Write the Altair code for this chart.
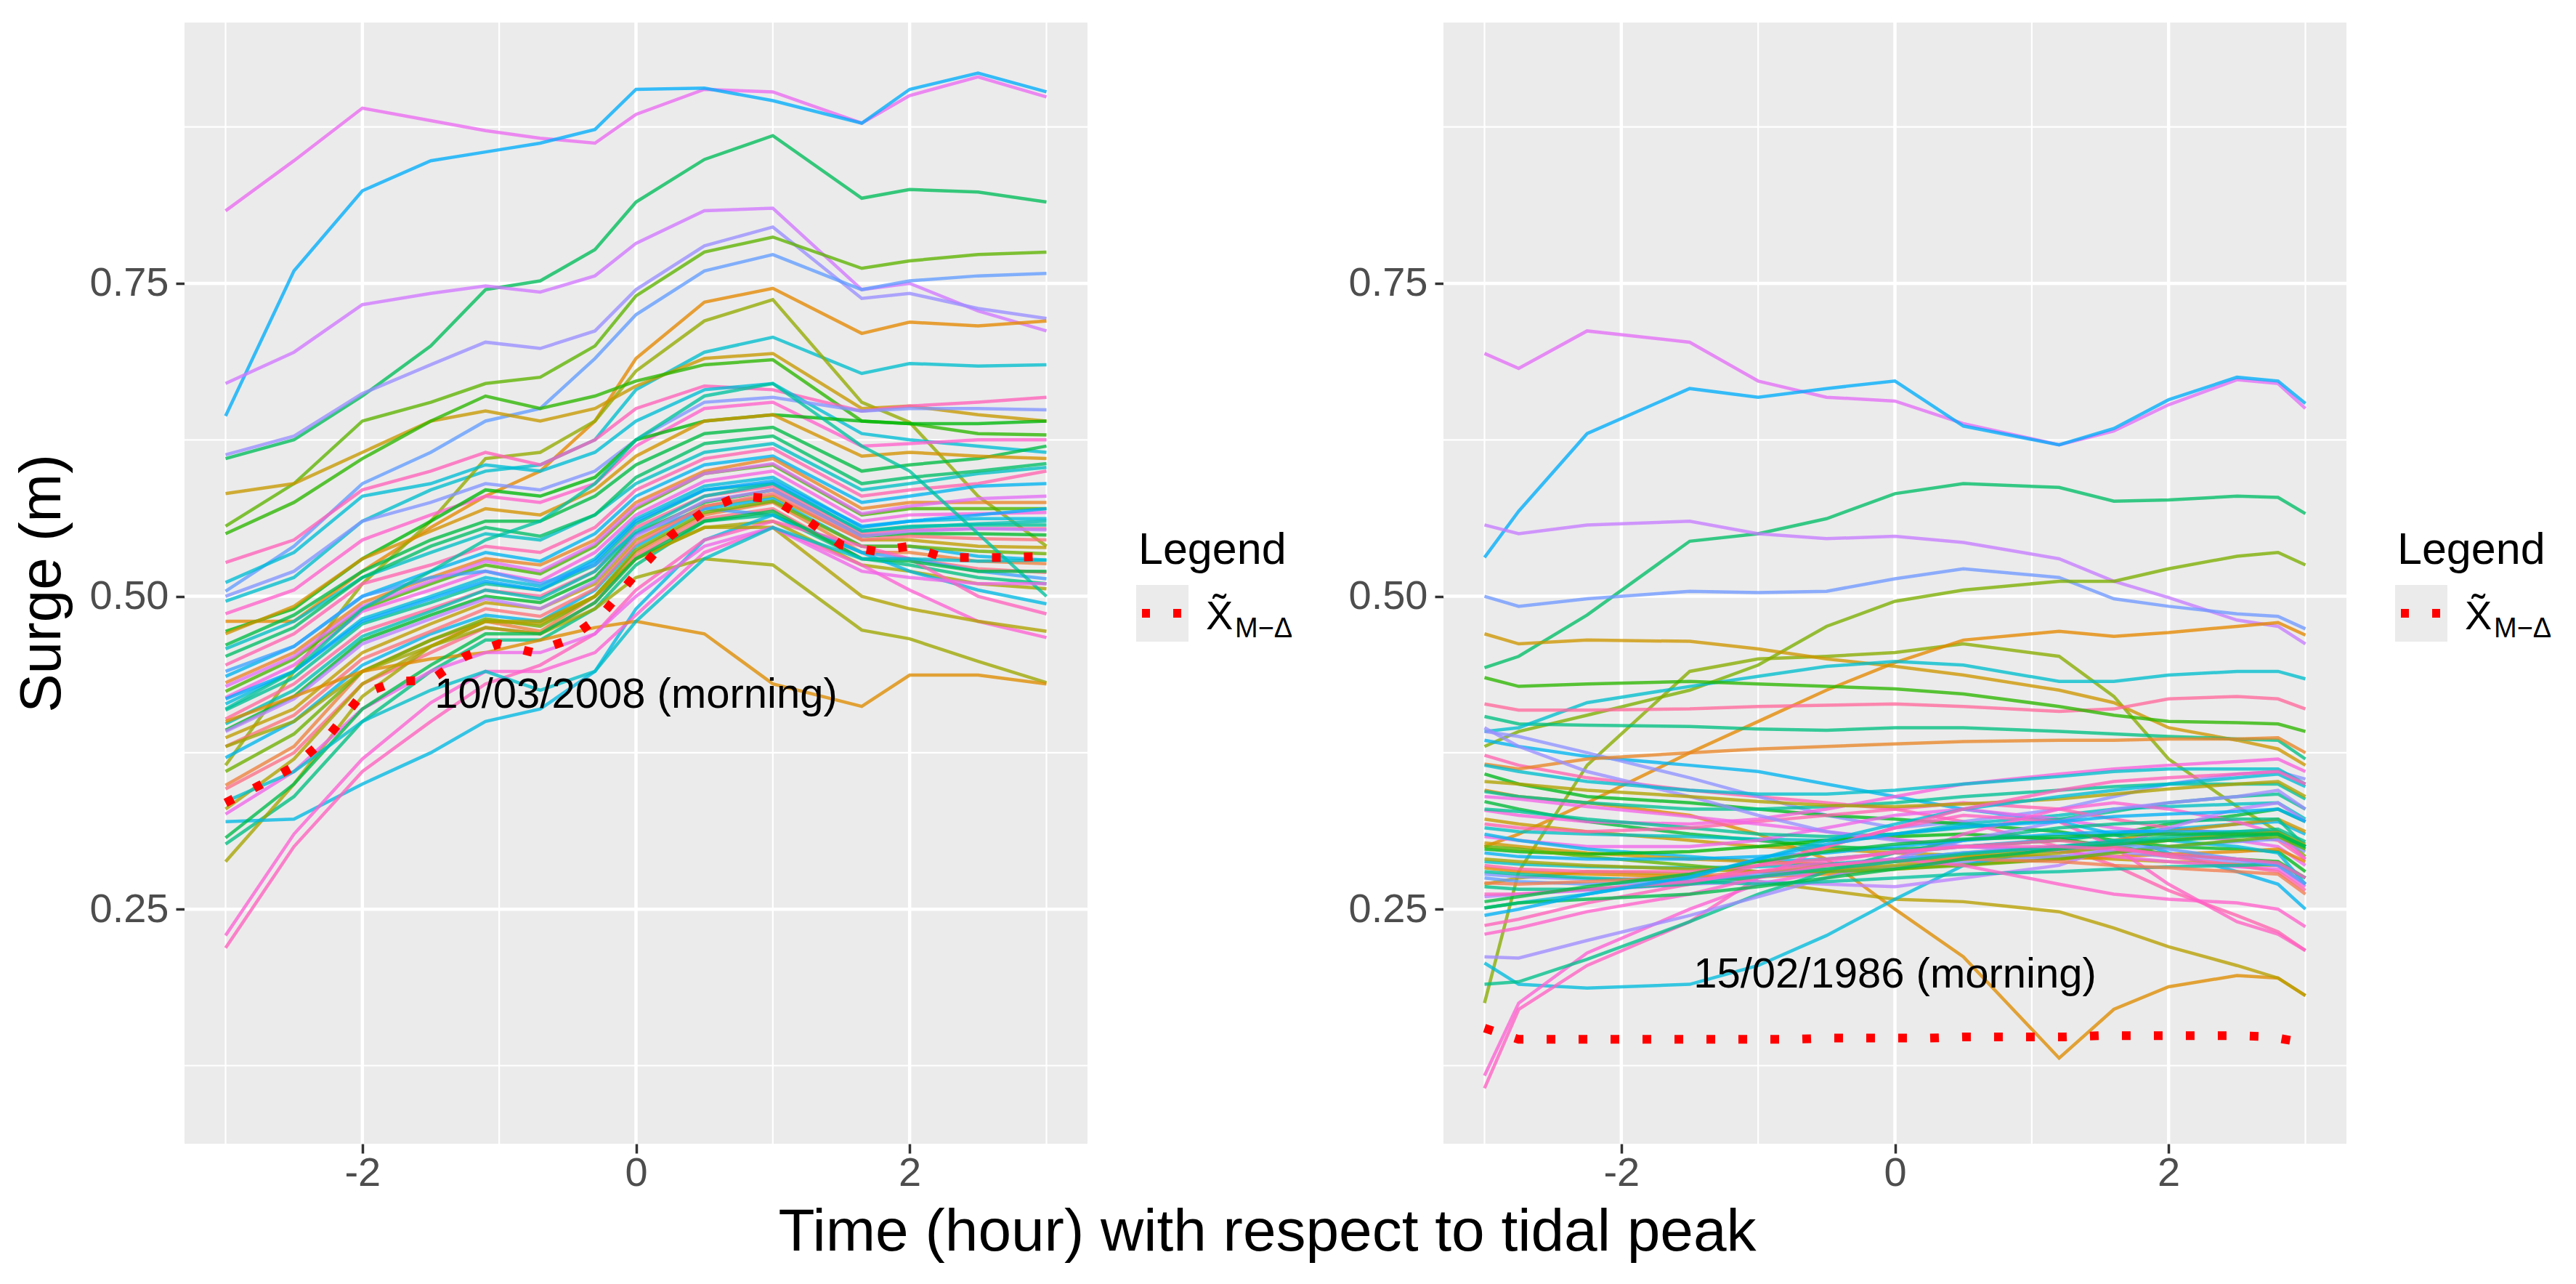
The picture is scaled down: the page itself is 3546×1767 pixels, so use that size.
import math
import altair as alt
import pandas as pd

FONT = "Liberation Sans"

# ---------------- data ----------------
T_LEFT = [-3, -2.5, -2, -1.5, -1.1, -0.7, -0.3, 0, 0.5, 1, 1.65, 2, 2.5, 3]
T_RIGHT = [-3, -2.75, -2.25, -1.5, -1, -0.5, 0, 0.5, 1.2, 1.6, 2, 2.5, 2.8, 3]
T_MEAN = [-3, -2.75, -2.5, -2.25, -2, -1.75, -1.5, -1.25, -1, -0.75, -0.5, -0.25, 0,
          0.25, 0.5, 0.75, 1, 1.25, 1.5, 1.75, 2, 2.25, 2.5, 2.75, 3]

LEFT_UPPER = [
    [.808, .848, .890, .880, .872, .866, .862, .885, .905, .903, .878, .900, .915, .899],
    [.644, .760, .824, .848, .855, .862, .873, .905, .906, .896, .878, .905, .918, .903],
    [.610, .625, .660, .700, .745, .752, .777, .815, .849, .868, .818, .825, .823, .815],
    [.670, .695, .733, .742, .748, .743, .756, .782, .808, .810, .745, .750, .728, .712],
    [.613, .628, .662, .685, .703, .698, .712, .745, .780, .795, .738, .742, .730, .722],
    [.556, .590, .640, .655, .670, .675, .700, .740, .775, .787, .762, .768, .773, .775],
    [.504, .540, .590, .615, .640, .650, .690, .725, .760, .773, .745, .752, .756, .758],
    [.480, .480, .520, .555, .580, .600, .640, .690, .735, .746, .710, .719, .716, .720],
    [.496, .515, .560, .585, .600, .605, .625, .665, .695, .707, .678, .686, .684, .685],
    [.365, .440, .510, .560, .610, .615, .640, .680, .720, .737, .655, .639, .580, .540],
    [.582, .590, .615, .640, .648, .640, .650, .668, .690, .694, .650, .652, .645, .640],
    [.550, .575, .610, .640, .660, .650, .660, .672, .685, .689, .640, .638, .630, .629],
]
LEFT_MIDDLE = [
    [.527, .545, .585, .600, .615, .605, .625, .650, .668, .665, .648, .652, .655, .659],
    [.511, .535, .580, .590, .605, .600, .615, .640, .665, .670, .630, .625, .620, .615],
    [.500, .520, .560, .575, .590, .585, .600, .625, .655, .659, .648, .650, .650, .649],
    [.486, .505, .545, .565, .580, .575, .590, .620, .650, .655, .620, .622, .625, .625],
    [.472, .490, .530, .560, .585, .580, .595, .625, .640, .645, .640, .638, .638, .640],
    [.461, .485, .520, .545, .560, .560, .580, .605, .630, .635, .600, .605, .610, .620],
    [.458, .480, .515, .535, .550, .545, .565, .590, .615, .622, .585, .590, .598, .603],
    [.445, .470, .510, .525, .540, .535, .555, .585, .610, .618, .580, .585, .590, .600],
    [.436, .460, .500, .520, .535, .528, .550, .580, .605, .612, .575, .580, .588, .590],
    [.431, .455, .495, .515, .530, .525, .545, .575, .600, .610, .570, .575, .575, .575],
    [.424, .450, .490, .510, .525, .518, .540, .570, .598, .605, .565, .570, .570, .570],
    [.419, .445, .488, .505, .520, .512, .535, .565, .592, .600, .560, .565, .566, .567],
    [.414, .440, .482, .500, .515, .508, .530, .562, .588, .595, .555, .560, .562, .562],
    [.409, .435, .478, .495, .510, .505, .525, .558, .585, .590, .552, .556, .557, .557],
    [.402, .430, .472, .490, .505, .500, .520, .555, .580, .588, .550, .553, .554, .554],
    [.393, .420, .465, .485, .500, .495, .515, .550, .575, .585, .548, .550, .550, .549],
    [.387, .410, .455, .478, .495, .490, .510, .545, .572, .580, .545, .545, .540, .539],
    [.371, .400, .445, .470, .485, .480, .505, .540, .570, .578, .540, .540, .532, .529],
    [.349, .380, .440, .465, .480, .472, .500, .535, .565, .575, .535, .535, .528, .526],
    [.346, .375, .430, .455, .475, .470, .495, .532, .562, .570, .530, .530, .522, .519],
    [.440, .460, .500, .515, .520, .510, .525, .550, .570, .565, .535, .530, .520, .514],
    [.452, .475, .515, .540, .555, .548, .565, .595, .622, .628, .590, .595, .600, .606],
    [.428, .452, .492, .512, .528, .520, .542, .572, .598, .606, .566, .572, .578, .580],
    [.398, .425, .468, .488, .505, .498, .520, .552, .580, .590, .552, .555, .558, .560],
    [.380, .405, .450, .472, .490, .484, .506, .542, .572, .582, .545, .548, .546, .545],
    [.360, .390, .440, .465, .482, .476, .500, .537, .567, .576, .540, .540, .536, .534],
    [.418, .440, .480, .498, .512, .505, .528, .560, .585, .592, .556, .560, .565, .570],
    [.470, .492, .530, .552, .570, .565, .585, .612, .640, .645, .612, .615, .612, .610],
    [.392, .418, .462, .482, .498, .490, .512, .548, .576, .585, .548, .552, .554, .553],
]
LEFT_LOWER = [
    [.302, .340, .400, .440, .465, .465, .490, .525, .560, .565, .530, .525, .515, .510],
    [.288, .350, .420, .460, .480, .480, .500, .530, .555, .560, .525, .520, .510, .506],
    [.320, .322, .350, .375, .400, .410, .440, .490, .545, .565, .535, .520, .505, .494],
    [.219, .300, .360, .400, .430, .445, .470, .505, .545, .560, .540, .530, .500, .486],
    [.229, .310, .370, .415, .440, .440, .455, .485, .535, .555, .525, .505, .480, .467],
    [.380, .400, .440, .460, .475, .470, .490, .515, .530, .525, .473, .466, .448, .431],
    [.400, .420, .440, .450, .455, .465, .475, .480, .470, .430, .412, .437, .437, .430],
    [.330, .370, .430, .460, .480, .478, .500, .530, .555, .555, .500, .490, .480, .472],
    [.410, .440, .490, .520, .545, .560, .590, .625, .660, .670, .620, .600, .550, .500],
    [.326, .360, .410, .440, .455, .455, .470, .500, .540, .555, .520, .515, .510, .510],
    [.307, .350, .410, .445, .470, .470, .495, .530, .560, .568, .530, .528, .520, .520],
    [.336, .360, .400, .425, .440, .425, .440, .480, .530, .555, .530, .530, .528, .529],
]
LEFT_MEAN = [.335, .349, .364, .388, .422, .432, .433, .452, .462, .455, .465, .485, .518,
             .548, .568, .580, .578, .561, .541, .536, .540, .531, .531, .531, .532]

RIGHT_UPPER = [
    [.694, .682, .712, .703, .672, .659, .656, .638, .621, .632, .653, .673, .670, .650],
    [.531, .568, .630, .666, .659, .666, .672, .636, .621, .634, .657, .675, .672, .654],
    [.443, .452, .485, .544, .550, .562, .582, .590, .587, .576, .577, .580, .579, .566],
    [.557, .550, .557, .560, .550, .546, .548, .543, .530, .512, .499, .481, .476, .462],
    [.500, .492, .498, .504, .503, .504, .514, .522, .515, .498, .492, .486, .484, .474],
    [.380, .392, .405, .425, .445, .476, .496, .505, .512, .512, .522, .532, .535, .525],
    [.175, .280, .365, .440, .450, .452, .455, .462, .452, .420, .370, .332, .312, .292],
    [.300, .310, .335, .375, .400, .425, .447, .465, .472, .468, .471, .476, .479, .469],
]
RIGHT_MIDDLE = [
    [.345, .340, .335, .325, .310, .290, .250, .212, .131, .170, .188, .197, .195, .181],
    [.270, .275, .280, .278, .272, .265, .258, .256, .248, .235, .220, .205, .195, .181],
    [.470, .462, .465, .464, .458, .450, .444, .437, .425, .415, .395, .385, .378, .365],
    [.404, .398, .397, .396, .394, .393, .395, .395, .392, .390, .388, .386, .385, .370],
    [.392, .395, .415, .428, .436, .444, .448, .445, .432, .432, .437, .440, .440, .434],
    [.414, .409, .409, .410, .412, .413, .414, .412, .408, .410, .418, .420, .418, .410],
    [.435, .428, .430, .432, .430, .428, .426, .422, .412, .405, .400, .399, .398, .392],
    [.373, .365, .355, .345, .340, .335, .330, .320, .300, .285, .265, .245, .232, .217],
    [.385, .380, .372, .365, .360, .350, .340, .330, .320, .310, .295, .280, .270, .250],
    [.392, .388, .375, .355, .340, .325, .315, .320, .330, .340, .350, .358, .360, .354],
    [.366, .362, .370, .375, .378, .380, .382, .384, .385, .385, .386, .386, .387, .375],
    [.358, .350, .340, .335, .330, .325, .322, .318, .312, .305, .300, .298, .296, .280],
    [.344, .340, .335, .330, .330, .332, .335, .340, .345, .348, .350, .350, .350, .338],
    [.336, .330, .320, .310, .305, .300, .298, .300, .305, .310, .318, .325, .330, .320],
    [.329, .325, .320, .318, .322, .330, .340, .350, .358, .362, .365, .368, .370, .360],
    [.322, .318, .312, .305, .300, .298, .295, .293, .292, .290, .288, .286, .285, .270],
    [.315, .312, .310, .308, .306, .305, .310, .318, .325, .330, .332, .334, .335, .322],
    [.308, .305, .300, .300, .305, .315, .325, .330, .322, .315, .310, .305, .300, .285],
    [.330, .328, .322, .315, .310, .308, .310, .315, .322, .328, .335, .340, .342, .330],
    [.318, .315, .312, .315, .320, .325, .330, .335, .330, .322, .315, .310, .305, .290],
    [.310, .305, .298, .292, .288, .290, .295, .300, .306, .310, .314, .318, .320, .310],
    [.303, .300, .295, .290, .288, .286, .288, .292, .298, .305, .312, .318, .322, .312],
    [.298, .296, .294, .296, .300, .305, .308, .310, .306, .300, .294, .290, .288, .275],
    [.288, .286, .284, .283, .284, .286, .290, .295, .300, .303, .306, .309, .310, .298],
    [.283, .280, .278, .276, .276, .278, .282, .286, .290, .292, .294, .296, .298, .288],
    [.278, .276, .274, .274, .276, .280, .284, .288, .292, .296, .300, .304, .306, .296],
    [.340, .338, .332, .324, .318, .312, .306, .300, .296, .292, .288, .284, .282, .268],
    [.395, .380, .360, .340, .325, .312, .305, .300, .298, .296, .292, .288, .285, .270],
    [.352, .350, .345, .340, .336, .333, .332, .334, .338, .342, .346, .350, .352, .340],
    [.365, .360, .352, .345, .342, .342, .345, .350, .356, .360, .362, .362, .362, .350],
]
RIGHT_LOWER = [
    [.207, .190, .187, .190, .205, .229, .258, .285, .300, .305, .305, .300, .295, .270],
    [.107, .170, .205, .240, .275, .300, .315, .325, .320, .300, .270, .240, .230, .217],
    [.117, .175, .215, .250, .270, .280, .290, .310, .330, .335, .330, .320, .310, .290],
    [.190, .192, .210, .240, .262, .280, .295, .305, .315, .318, .320, .322, .322, .300],
    [.212, .211, .225, .245, .260, .275, .290, .305, .320, .330, .335, .340, .345, .330],
    [.260, .262, .265, .270, .272, .270, .268, .275, .285, .300, .315, .330, .335, .320],
    [.300, .298, .292, .285, .280, .280, .282, .285, .290, .295, .300, .305, .308, .298],
    [.295, .292, .290, .290, .292, .295, .300, .305, .310, .312, .312, .312, .312, .300],
    [.290, .288, .285, .282, .280, .282, .285, .290, .295, .300, .305, .310, .312, .302],
    [.285, .282, .280, .280, .285, .290, .295, .300, .305, .300, .292, .285, .280, .265],
    [.280, .278, .275, .272, .270, .272, .275, .278, .280, .282, .284, .285, .286, .275],
    [.275, .272, .270, .272, .278, .285, .290, .295, .300, .302, .298, .290, .285, .270],
    [.271, .270, .272, .276, .280, .285, .288, .290, .288, .285, .283, .280, .278, .262],
    [.251, .255, .262, .275, .290, .305, .318, .330, .340, .345, .350, .355, .358, .348],
    [.237, .242, .255, .270, .285, .300, .315, .330, .345, .352, .355, .358, .360, .350],
    [.230, .235, .248, .262, .275, .285, .290, .285, .270, .262, .258, .255, .250, .236],
    [.251, .255, .258, .262, .268, .275, .282, .290, .298, .302, .305, .308, .310, .300],
    [.268, .266, .266, .270, .276, .282, .288, .294, .300, .304, .308, .312, .314, .304],
    [.262, .262, .266, .272, .280, .288, .296, .300, .300, .298, .294, .290, .287, .275],
    [.256, .260, .268, .278, .288, .296, .302, .306, .308, .309, .310, .310, .310, .300],
    [.245, .250, .262, .276, .290, .302, .310, .316, .320, .324, .326, .328, .330, .320],
]
RIGHT_MEAN = [.155, .146, .146, .146, .146, .146, .146, .146, .146, .146, .147, .147, .147,
              .147, .148, .148, .148, .148, .149, .149, .149, .149, .149, .148, .143]

LEFT_LABEL = "10/03/2008 (morning)"
RIGHT_LABEL = "15/02/1986 (morning)"
LEFT_LABEL_POS = (0, 0.421)
RIGHT_LABEL_POS = (0, 0.197)

Y_TICKS = [0.25, 0.5, 0.75]
Y_MINOR = [0.125, 0.375, 0.625, 0.875]
X_TICKS = [-2, 0, 2]
X_MINOR = [-3, -1, 1, 3]

# ---------------- styles ----------------
LEFT_HUES = [305, 235, 145, 290, 268, 115, 255, 40, 200, 95, 65, 125,
             340, 205, 262, 330, 128, 138, 195, 345, 225, 35, 120, 315, 210, 170, 355, 132,
             70, 220, 30, 5, 250,
             150, 300, 185, 10, 110, 240, 55, 280,
             160, 85, 215, 338, 325, 90, 45, 80, 175, 310, 140, 198]
RIGHT_HUES = [300, 235, 150, 285, 258, 105, 100, 40,
              45, 75, 60, 160, 200, 355, 125, 345, 225, 265, 35, 130, 170, 135, 320, 65, 195, 310,
              170, 345, 220, 60, 128, 195, 40, 262, 312, 268, 80, 200,
              210, 335, 325, 165, 270, 280, 115, 230, 85, 350, 175, 255, 25, 205, 340, 330, 140,
              165, 335, 138, 230]


def hcl_hex(h, c=100.0, l=65.0):
    hr = math.radians(h)
    u, v = c * math.cos(hr), c * math.sin(hr)
    xn, yn, zn = 95.047, 100.0, 108.883
    den = xn + 15 * yn + 3 * zn
    un, vn = 4 * xn / den, 9 * yn / den
    yy = yn * ((l + 16) / 116) ** 3
    up, vp = u / (13 * l) + un, v / (13 * l) + vn
    xx = yy * 9 * up / (4 * vp)
    zz = yy * (12 - 3 * up - 20 * vp) / (4 * vp)
    xx, yy, zz = xx / 100, yy / 100, zz / 100
    r = 3.2404542 * xx - 1.5371385 * yy - 0.4985314 * zz
    g = -0.9692660 * xx + 1.8760108 * yy + 0.0415560 * zz
    b = 0.0556434 * xx - 0.2040259 * yy + 1.0572252 * zz

    def gam(cv):
        cv = cv * 12.92 if cv <= 0.0031308 else 1.055 * cv ** (1 / 2.4) - 0.055
        return max(0.0, min(1.0, cv))
    return "#%02x%02x%02x" % tuple(int(round(gam(k) * 255)) for k in (r, g, b))


def long_form(times, curves, prefix):
    rows = []
    for i, vals in enumerate(curves):
        for t, v in zip(times, vals):
            rows.append({"id": f"{prefix}{i:02d}", "t": t, "v": v})
    return pd.DataFrame(rows)


PANEL_W = 1243
PANEL_H = 1543
XS = alt.Scale(domain=[-3.3, 3.3], nice=False, zero=False)
YS = alt.Scale(domain=[0.0626, 0.9584], nice=False, zero=False)


def make_axes(show_titles):
    common = dict(labelFontSize=56, labelColor="#4D4D4D", labelFont=FONT,
                  tickColor="#333333", tickWidth=3.5, domain=False, grid=False)
    if show_titles:
        xa = alt.Axis(values=X_TICKS, labelExpr="replace(datum.label, '\u2212', '-')",
                      tickSize=13, labelPadding=0,
                      title="Time (hour) with respect to tidal peak", titleFontSize=82,
                      titleFont=FONT, titleColor="black", titleFontWeight="normal",
                      titleX=1490, titleY=146, titleBaseline="alphabetic", titleAlign="center",
                      **common)
        ya = alt.Axis(values=Y_TICKS, format=".2f", tickSize=12, labelPadding=10,
                      title="Surge (m)", titleFontSize=80, titleFont=FONT, titleColor="black",
                      titleFontWeight="normal", titleX=-172, titleY=PANEL_H / 2, titleAngle=270,
                      titleBaseline="alphabetic", titleAlign="center", **common)
    else:
        xa = alt.Axis(values=X_TICKS, labelExpr="replace(datum.label, '\u2212', '-')",
                      tickSize=13, labelPadding=0, title="", **common)
        ya = alt.Axis(values=Y_TICKS, format=".2f", tickSize=12, labelPadding=10, title="",
                      **common)
    return xa, ya


def panel(curves, hues, prefix, mean_vals, label, label_pos, show_titles):
    xa, ya = make_axes(show_titles)
    X = alt.X("t:Q", scale=XS, axis=xa)
    Y = alt.Y("v:Q", scale=YS, axis=ya)

    df = long_form(T_LEFT if prefix == "L" else T_RIGHT, curves, prefix)
    ids = sorted(df["id"].unique())
    colors = [hcl_hex(h) for h in hues[:len(ids)]]

    gx_major = alt.Chart(pd.DataFrame({"t": X_TICKS})).mark_rule(
        color="white", strokeWidth=4.5).encode(x=X)
    gx_minor = alt.Chart(pd.DataFrame({"t": X_MINOR})).mark_rule(
        color="white", strokeWidth=2.2).encode(x=X)
    gy_major = alt.Chart(pd.DataFrame({"v": Y_TICKS})).mark_rule(
        color="white", strokeWidth=4.5).encode(y=Y)
    gy_minor = alt.Chart(pd.DataFrame({"v": Y_MINOR})).mark_rule(
        color="white", strokeWidth=2.2).encode(y=Y)

    lines = alt.Chart(df).mark_line(strokeWidth=4.5, opacity=0.78).encode(
        x=X, y=Y,
        color=alt.Color("id:N", scale=alt.Scale(domain=ids, range=colors), legend=None),
        detail="id:N")

    mean_df = pd.DataFrame({"t": T_MEAN, "v": mean_vals})
    mean = alt.Chart(mean_df).mark_line(color="#FF0000", strokeWidth=12,
                                         strokeDash=[12, 32], strokeCap="butt").encode(x=X, y=Y)

    lab = alt.Chart(pd.DataFrame({"t": [label_pos[0]], "v": [label_pos[1]], "s": [label]})) \
        .mark_text(font=FONT, fontSize=58, color="black", align="center",
                   baseline="middle").encode(x=X, y=Y, text="s:N")

    one = pd.DataFrame({"k": [0]})
    leg_title = alt.Chart(one).mark_text(font=FONT, fontSize=61, color="black",
                                         align="left", baseline="alphabetic").encode(
        x=alt.value(1313), y=alt.value(745), text=alt.value("Legend"))
    leg_key = alt.Chart(one).mark_rect(color="#EBEBEB").encode(
        x=alt.value(1310), x2=alt.value(1382), y=alt.value(774), y2=alt.value(852))
    leg_line = alt.Chart(one).mark_rule(color="#FF0000", strokeWidth=12,
                                        strokeDash=[11, 32], strokeCap="butt").encode(
        x=alt.value(1318), x2=alt.value(1372), y=alt.value(813))
    leg_x = alt.Chart(one).mark_text(font=FONT, fontSize=56, color="black",
                                     align="left", baseline="alphabetic").encode(
        x=alt.value(1406), y=alt.value(835), text=alt.value("X\u0303"))
    leg_sub = alt.Chart(one).mark_text(font=FONT, fontSize=38, color="black",
                                       align="left", baseline="alphabetic").encode(
        x=alt.value(1446), y=alt.value(846), text=alt.value("M\u2212\u0394"))

    return alt.layer(gy_minor, gx_minor, gy_major, gx_major, lines, mean, lab,
                     leg_title, leg_key, leg_line, leg_x, leg_sub).properties(
        width=PANEL_W, height=PANEL_H)


left = panel(LEFT_UPPER + LEFT_MIDDLE + LEFT_LOWER, LEFT_HUES, "L", LEFT_MEAN,
             LEFT_LABEL, LEFT_LABEL_POS, True)
right = panel(RIGHT_UPPER + RIGHT_MIDDLE + RIGHT_LOWER, RIGHT_HUES, "R", RIGHT_MEAN,
              RIGHT_LABEL, RIGHT_LABEL_POS, False)

chart = alt.hconcat(left, right, spacing=490, bounds="flush").resolve_scale(
    color="independent"
).properties(
    padding={"left": 10, "top": 20, "right": 5, "bottom": 5},
    background="white"
).configure_view(fill="#EBEBEB", strokeWidth=0)

chart.save("out.html", embed_options={"renderer": "svg", "actions": False})
